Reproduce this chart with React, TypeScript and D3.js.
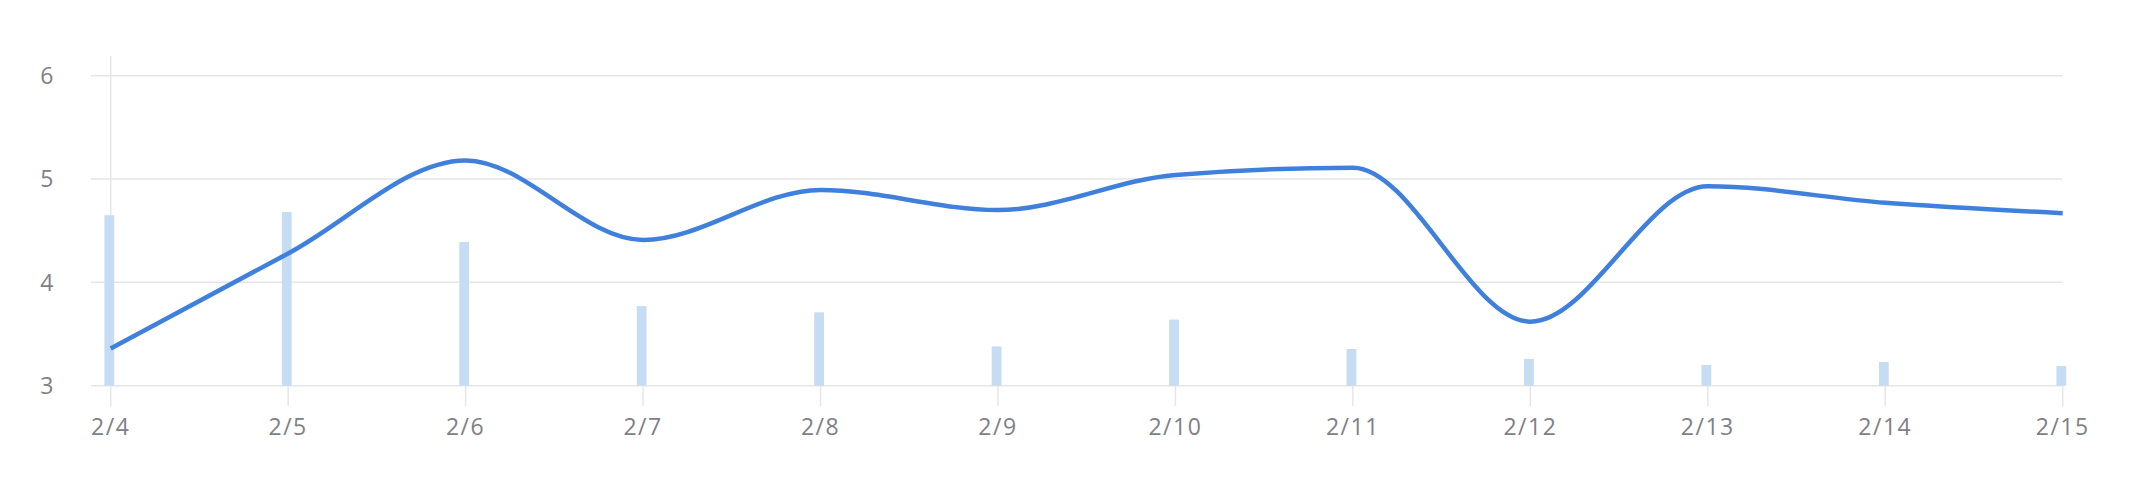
import React from "react";
import * as d3 from "d3";

const categories = ["2/4", "2/5", "2/6", "2/7", "2/8", "2/9", "2/10", "2/11", "2/12", "2/13", "2/14", "2/15"];
const lineValues = [3.36, 4.28, 5.18, 4.41, 4.895, 4.70, 5.04, 5.11, 3.62, 4.93, 4.77, 4.67];
const barValues = [4.65, 4.68, 4.39, 3.77, 3.71, 3.38, 3.64, 3.355, 3.26, 3.2, 3.23, 3.19];
const yTicks = [3, 4, 5, 6];

const W = 2147;
const H = 503;
const FONT = "'Open Sans', 'DejaVu Sans', sans-serif";

export default function App() {
  const x = d3.scalePoint<string>().domain(categories).range([110.7, 2062.7]);
  const y = d3.scaleLinear().domain([3, 6]).range([385.7, 75.7]);
  const gridLeft = 91;
  const gridRight = 2062.7;

  const line = d3
    .line<number>()
    .x((_, i) => x(categories[i]) as number)
    .y((d) => y(d))
    .curve(d3.curveMonotoneX);

  const gridColor = "#e6e6ea";
  const labelColor = "#808085";

  return (
    <svg
      width={W}
      height={H}
      style={{ position: "absolute", left: 0, top: 0, background: "#fff" }}
    >
      {yTicks.map((t) => (
        <g key={t}>
          <line x1={gridLeft} x2={gridRight} y1={y(t)} y2={y(t)} stroke={gridColor} strokeWidth={1.5} />
          <text
            x={53.5}
            y={y(t)}
            dy="0.36em"
            textAnchor="end"
            fill={labelColor}
            fontFamily={FONT}
            fontSize={23}
          >
            {t}
          </text>
        </g>
      ))}
      <line x1={x(categories[0])} x2={x(categories[0])} y1={56} y2={y(3)} stroke={gridColor} strokeWidth={1.5} />
      {categories.map((c) => (
        <g key={c}>
          <line x1={x(c)} x2={x(c)} y1={y(3)} y2={406} stroke={gridColor} strokeWidth={1.5} />
          <text
            x={x(c)}
            y={435}
            textAnchor="middle"
            fill={labelColor}
            fontFamily={FONT}
            fontSize={23}
            letterSpacing={1.5}
          >
            {c}
          </text>
        </g>
      ))}
      {barValues.map((v, i) => (
        <rect
          key={i}
          x={(x(categories[i]) as number) - 6.3}
          width={9.8}
          y={y(v)}
          height={y(3) - y(v)}
          fill="#c6dcf3"
        />
      ))}
      <path d={line(lineValues) || ""} fill="none" stroke="#3f80dd" strokeWidth={4.5} />
    </svg>
  );
}
